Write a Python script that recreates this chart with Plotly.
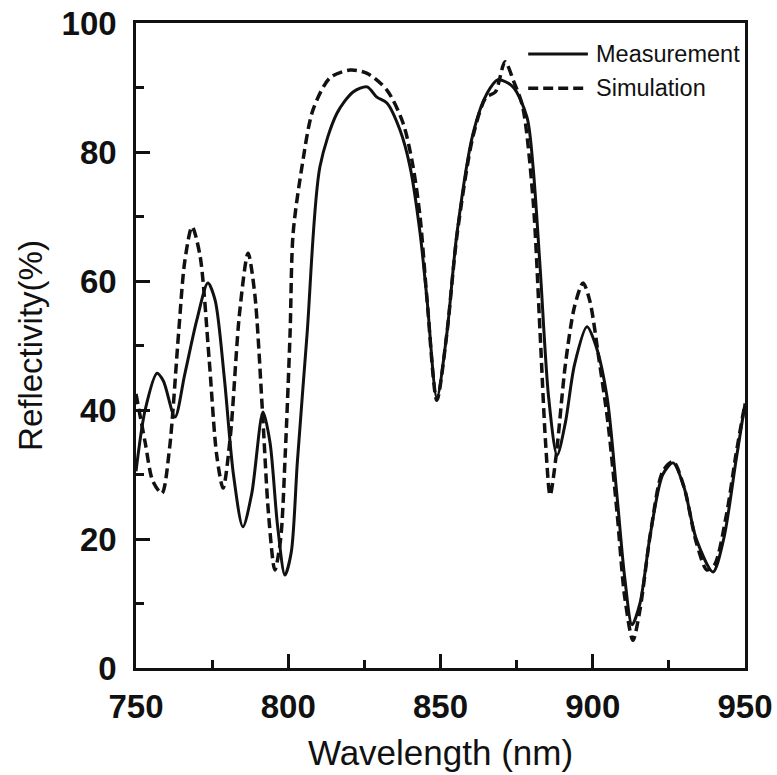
import plotly.graph_objects as go

# Measurement (solid)
meas_x = [750, 753, 756.9, 759, 762.8, 766, 770, 773.6, 776, 779, 782, 785.1, 788, 791.7,
          794, 796.5, 798.9, 801, 803, 806.2, 810.4, 816, 821.3, 825.9, 829.1, 832.4, 836.7,
          840, 843.3, 845.6, 848.8, 852.1, 855.4, 860.7, 865.3, 868.9, 873.8, 878.4, 880.4,
          882.7, 885.5, 888.3, 891, 894, 898.1, 901, 904.7, 908, 910.5, 912.9, 915.5, 919,
          923, 926.4, 930, 934, 939.5, 943, 947, 950]
meas_y = [30.5, 40, 45.7, 44.5, 38.9, 45.5, 54, 59.7, 57, 45, 30, 21.9, 27, 39.7,
          35, 22, 14.4, 18, 32, 51.9, 77.7, 86, 89.3, 90.1, 88.5, 87.6, 83.4,
          77.7, 67.4, 57, 41.9, 51.9, 67.4, 82.9, 89.1, 91.2, 90.1, 85.4, 77.7,
          62.2, 42, 33, 38, 47, 52.9, 50, 42, 26.5, 14, 6.7, 10, 21,
          30, 31.8, 28, 20, 14.9, 20, 32, 41]

# Simulation (dashed)
sim_x = [750, 753, 755.5, 758.5, 761, 764, 766, 768.4, 771, 774, 776.5, 778.6, 781, 784,
         786.8, 789, 791.5, 793.5, 795.6, 797.5, 799, 800.6, 801.6, 804.5, 808.1, 813.7,
         820.3, 825.9, 832.4, 837.7, 841, 843.3, 845.6, 848.8, 852, 855.4, 860.7, 865,
         868, 871.2, 874, 877, 880.4, 882.7, 884.5, 886, 888, 891, 894, 896.8, 899, 902,
         905, 908, 910.5, 913.2, 915.5, 919, 923, 926.4, 930, 934, 937.5, 940, 944, 947, 950]
sim_y = [42.5, 35, 29, 27.1, 34, 52, 63, 68.4, 64, 48, 33, 27.9, 36, 55,
         64.3, 58, 40, 24, 15.2, 20, 33, 51.9, 67.4, 77.7, 86.5, 91.5,
         92.7, 92.2, 89.6, 84.5, 77.7, 69.9, 57, 41.5, 51.5, 67, 82.5, 88.5,
         89.3, 94, 91, 87, 72.6, 52, 35, 26.8, 33, 47, 56, 59.7, 57, 48,
         38, 24, 11, 4.3, 9, 21, 30.5, 32, 28, 19.5, 15.2, 16, 24, 33, 41]

x_ticks = [750, 800, 850, 900, 950]
y_ticks = [0, 20, 40, 60, 80, 100]
legend_names = ["Measurement", "Simulation"]

INK = "#111111"
DASH = "10px,5px"
FAMILY = "Liberation Sans, Arial, sans-serif"

fig = go.Figure()
fig.add_trace(go.Scatter(x=meas_x, y=meas_y, mode="lines", name=legend_names[0],
                         line=dict(color=INK, width=3, shape="spline", smoothing=0.8),
                         showlegend=False))
fig.add_trace(go.Scatter(x=sim_x, y=sim_y, mode="lines", name=legend_names[1],
                         line=dict(color=INK, width=3.5, dash=DASH, shape="spline", smoothing=0.8),
                         showlegend=False))

# manual legend (paper coordinates)
leg_rows = [(0.952, "solid", 3), (0.899, DASH, 3.5)]
for (yp, dash, w), name in zip(leg_rows, legend_names):
    fig.add_shape(type="line", xref="paper", yref="paper", x0=0.644, x1=0.742, y0=yp, y1=yp,
                  line=dict(color=INK, width=w, dash=dash))
    fig.add_annotation(xref="paper", yref="paper", x=0.756, y=yp, text=name, showarrow=False,
                       xanchor="left", yanchor="middle", xshift=-2,
                       font=dict(family=FAMILY, size=23.5, color=INK))

tickfont = dict(family=FAMILY, size=33, color=INK, weight="bold")
axis_common = dict(showline=True, linecolor=INK, linewidth=2.5, mirror=True,
                   ticks="inside", ticklen=14, tickwidth=2.5, tickcolor=INK,
                   showgrid=False, zeroline=False, tickfont=tickfont, automargin=False)

fig.update_xaxes(range=[750, 950], tickvals=x_ticks, ticktext=[str(v) for v in x_ticks],
                 minor=dict(ticks="inside", ticklen=8, tickwidth=2.5, tickcolor=INK, dtick=25, tick0=750),
                 title=dict(text="Wavelength (nm)", standoff=17,
                            font=dict(family=FAMILY, size=35, color=INK)),
                 ticklabelstandoff=8,
                 **axis_common)
fig.update_yaxes(range=[0, 100], tickvals=y_ticks, ticktext=[str(v) for v in y_ticks],
                 minor=dict(ticks="inside", ticklen=8, tickwidth=2.5, tickcolor=INK, dtick=10, tick0=0),
                 title=dict(text="Reflectivity(%)", standoff=10,
                            font=dict(family=FAMILY, size=33, color=INK)),
                 ticklabelstandoff=10,
                 **axis_common)

fig.update_layout(width=777, height=775, margin=dict(l=136, r=32, t=23, b=107),
                  paper_bgcolor="white", plot_bgcolor="white")

fig.write_html("out.html")
